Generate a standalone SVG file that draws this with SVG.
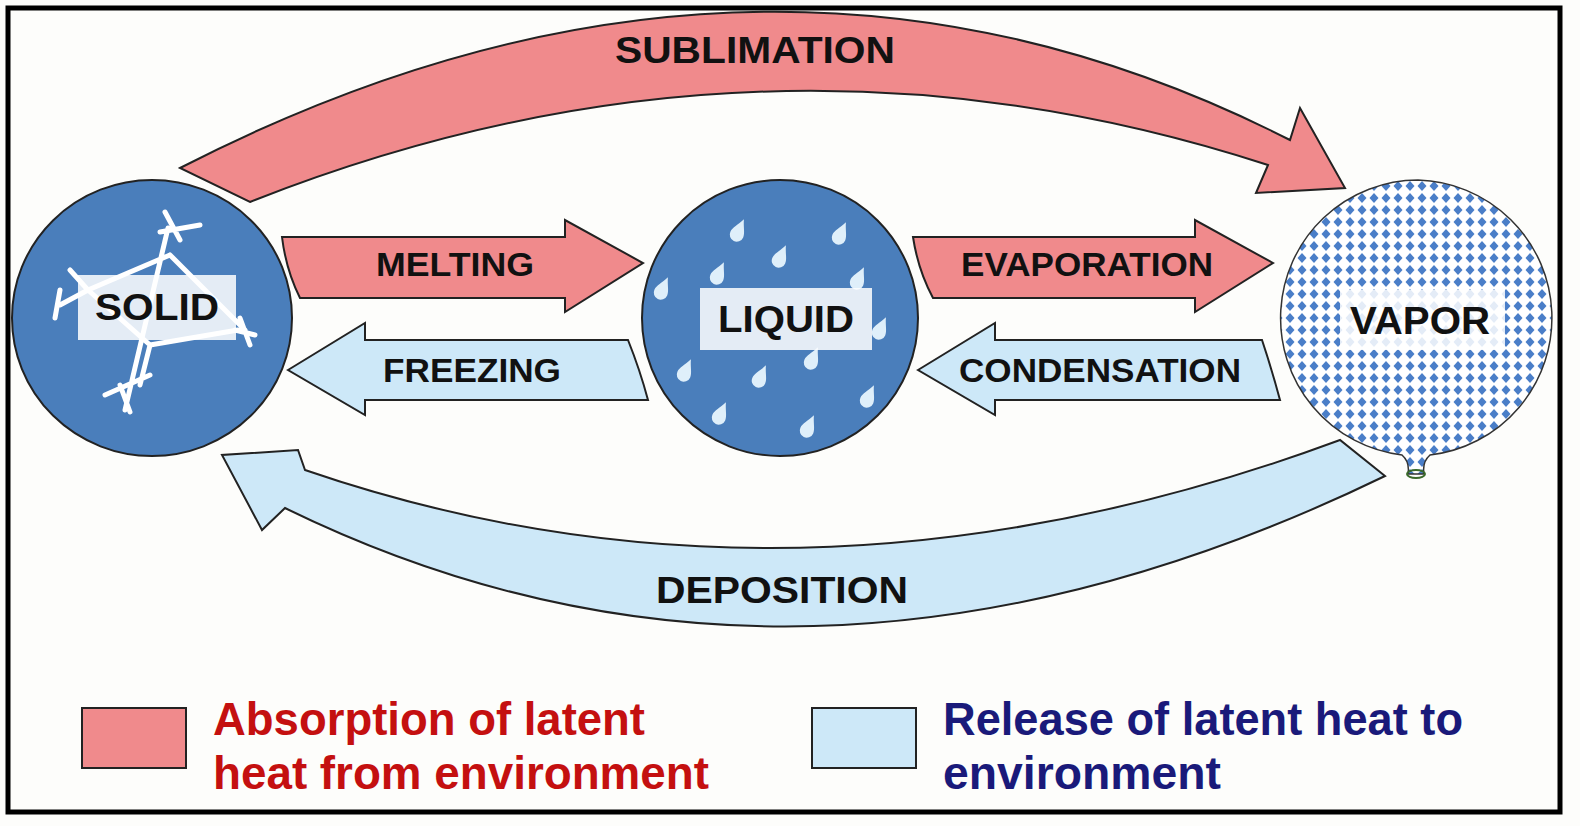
<svg xmlns="http://www.w3.org/2000/svg" width="1580" height="826" viewBox="0 0 1580 826">
<style>
.red{fill:#f08a8c;stroke:#222;stroke-width:2}
.blue{fill:#cde8f8;stroke:#222;stroke-width:2}
.lbl{font-family:"Liberation Sans",Arial,sans-serif;font-weight:bold;fill:#111;text-anchor:middle}
.box{fill:#fff;fill-opacity:0.85}
.flake{stroke:#fff;stroke-width:5;fill:none;stroke-linecap:round}
.drop{fill:#dfeffa}
.leg{font-family:"Liberation Sans",Arial,sans-serif;font-weight:bold;font-size:46px}
</style>
<defs>
<pattern id="dia" width="12" height="12" patternUnits="userSpaceOnUse">
<rect width="12" height="12" fill="#fff"/>
<path d="M6,1 L10.5,6 L6,11 L1.5,6 Z" fill="#4a7ec8"/>
</pattern>
<path id="dr" d="M0,-14 C3,-6 7,-2 7,3 A7,7 0 0 1 -7,3 C-7,-2 -3,-6 0,-14 Z" transform="rotate(25)"/>
</defs>
<rect width="1580" height="826" fill="#fdfdfb"/>
<rect x="8" y="8" width="1552" height="804" fill="none" stroke="#000" stroke-width="5"/>
<g id="connectors">
<path id="sublimation" class="red" d="M180,168 Q760,-130 1290,140 L1300,108 L1345,188 L1256,193 L1268,165 Q760,0 250,202 Z"/>
<text class="lbl" x="755" y="63" font-size="36" textLength="280" lengthAdjust="spacingAndGlyphs">SUBLIMATION</text>
<path id="deposition" class="blue" d="M1340,440 Q800,640 305,470 L298,450 L222,455 L262,530 L285,508 Q800,760 1385,476 Z"/>
<text class="lbl" x="782" y="603" font-size="36" textLength="252" lengthAdjust="spacingAndGlyphs">DEPOSITION</text>
<path id="melting" class="red" d="M282,237 L565,237 L565,220 L643,263 L565,312 L565,298 L300,298 Q286,270 282,237 Z"/>
<text class="lbl" x="455" y="276" font-size="33" textLength="158" lengthAdjust="spacingAndGlyphs">MELTING</text>
<path id="evaporation" class="red" d="M913,237 L1195,237 L1195,220 L1273,263 L1195,312 L1195,298 L933,298 Q918,270 913,237 Z"/>
<text class="lbl" x="1087" y="276" font-size="33" textLength="252" lengthAdjust="spacingAndGlyphs">EVAPORATION</text>
<path id="freezing" class="blue" d="M288,370 L365,323 L365,340 L628,340 Q640,370 648,400 L365,400 L365,415 Z"/>
<text class="lbl" x="472" y="382" font-size="33" textLength="178" lengthAdjust="spacingAndGlyphs">FREEZING</text>
<path id="condensation" class="blue" d="M918,370 L995,323 L995,340 L1262,340 Q1272,370 1280,400 L995,400 L995,415 Z"/>
<text class="lbl" x="1100" y="382" font-size="33" textLength="282" lengthAdjust="spacingAndGlyphs">CONDENSATION</text>
</g>
<g id="solid">
<ellipse cx="152" cy="318" rx="140" ry="138" fill="#4a7ebb" stroke="#222" stroke-width="2"/>
<g class="flake">
<path d="M168,228 L125,410 M170,255 L245,330 M88,290 L150,345 L140,385 M150,345 L238,330 M88,290 L170,255 M70,270 L88,290 L60,305 M60,290 L55,318 M160,232 L200,225 M180,240 L165,212 M240,318 L250,345 M235,330 L255,335 M105,395 L150,375 M120,385 L130,412"/>
</g>
<rect class="box" x="78" y="275" width="158" height="65"/>
<text class="lbl" x="157" y="320" font-size="37" textLength="124" lengthAdjust="spacingAndGlyphs">SOLID</text>
</g>
<g id="liquid">
<circle cx="780" cy="318" r="138" fill="#4a7ebb" stroke="#222" stroke-width="2"/>
<g class="drop">
<use href="#dr" x="738" y="232"/><use href="#dr" x="840" y="235"/><use href="#dr" x="780" y="258"/>
<use href="#dr" x="718" y="275"/><use href="#dr" x="662" y="290"/><use href="#dr" x="858" y="280"/>
<use href="#dr" x="880" y="330"/><use href="#dr" x="685" y="372"/><use href="#dr" x="760" y="378"/>
<use href="#dr" x="812" y="360"/><use href="#dr" x="868" y="398"/><use href="#dr" x="720" y="415"/>
<use href="#dr" x="808" y="428"/>
</g>
<rect class="box" x="700" y="288" width="172" height="62"/>
<text class="lbl" x="786" y="332" font-size="37" textLength="136" lengthAdjust="spacingAndGlyphs">LIQUID</text>
</g>
<g id="vapor">
<path d="M1418,180 A138,138 0 0 1 1430,455 Q1422,462 1424,474 L1408,474 Q1410,462 1402,455 A138,138 0 0 1 1418,180 Z" fill="url(#dia)" stroke="#333" stroke-width="1.5"/>
<ellipse cx="1416" cy="474" rx="9" ry="4" fill="none" stroke="#3a6a2a" stroke-width="2"/>
<rect class="box" x="1340" y="290" width="165" height="60"/>
<text class="lbl" x="1420" y="334" font-size="39" textLength="140" lengthAdjust="spacingAndGlyphs">VAPOR</text>
</g>
<g id="legend">
<rect x="82" y="708" width="104" height="60" class="red"/>
<text class="leg" x="213" y="735" fill="#c41010" textLength="432" lengthAdjust="spacingAndGlyphs">Absorption of latent</text>
<text class="leg" x="213" y="789" fill="#c41010" textLength="496" lengthAdjust="spacingAndGlyphs">heat from environment</text>
<rect x="812" y="708" width="104" height="60" class="blue"/>
<text class="leg" x="943" y="735" fill="#1a1a7a" textLength="520" lengthAdjust="spacingAndGlyphs">Release of latent heat to</text>
<text class="leg" x="943" y="789" fill="#1a1a7a" textLength="278" lengthAdjust="spacingAndGlyphs">environment</text>
</g>
</svg>
